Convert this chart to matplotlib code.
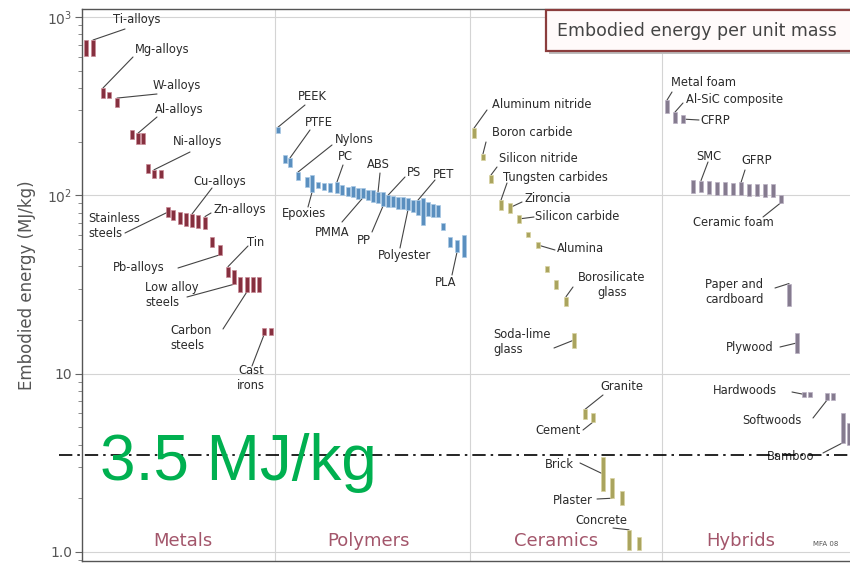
import numpy as np
import matplotlib
matplotlib.use("Agg")
import matplotlib.pyplot as plt
from matplotlib.transforms import Affine2D
from matplotlib.patches import Rectangle

# ---------------- data: embodied energy ranges (MJ/kg) ----------------
metal_lo = [604, 604, 351, 351, 313, 207, 194, 194, 133, 125, 125,
            75.5, 72.6, 69, 67.2, 66.4, 65.6, 64.8, 51.4, 46.4, 35,
            31.7, 28.8, 28.8, 28.8, 28.8, 16.5, 16.5]
metal_hi = [743, 743, 400, 380, 351, 232, 223, 223, 150, 139, 139,
            86, 82.7, 80.6, 79.6, 78.5, 77.5, 76, 58.5, 52.6, 39.8,
            38.2, 35, 35, 35, 35, 18, 18]

polymer_lo = [223, 152, 144, 122, 111, 104, 110, 107, 104, 103, 100, 99,
              98, 95, 97, 94, 92, 91, 87, 86, 86, 84, 84, 83, 81, 78, 68,
              77, 76, 76, 64, 51, 48, 45]
polymer_hi = [241, 168, 162, 135, 127, 130, 119, 117, 117, 119, 114, 111,
              113, 110, 110, 107, 107, 104, 104, 100, 99, 98, 98, 97, 94,
              94, 97, 92, 89, 88, 70, 58, 56, 60]

ceramic_lo = [210, 158, 117, 83, 80, 70, 58, 50.6, 37, 30, 24, 14, 5.6,
              5.35, 2.2, 2.0, 1.83, 1.03, 1.03]
ceramic_hi = [238, 171, 130, 94, 91, 77.6, 62, 54.7, 40, 33.5, 27, 17,
              6.3, 6.0, 3.4, 2.6, 2.2, 1.33, 1.21]

hybrid_lo = [290, 254, 254, 103, 104, 102, 100, 100, 101, 100, 99, 99,
             98, 98, 91, 24, 13, 7.4, 7.4, 7.1, 7.1, 4.1, 4.0]
hybrid_hi = [342, 293, 282, 122, 121, 120, 118, 118, 117, 118, 116, 116,
             115, 115, 100, 32, 17, 7.9, 7.9, 7.8, 7.8, 6.0, 5.3]

families = ["Metals", "Polymers", "Ceramics", "Hybrids"]
THRESHOLD = 3.5  # MJ/kg

# ---------------- layout: bar columns along the x axis ----------------
metal_x = [86, 93, 103, 109, 117, 132, 138, 143, 148, 154, 161, 168, 173,
           180, 186, 192, 198, 205, 212, 220, 228, 234, 240, 247, 253, 259,
           264, 271]
polymer_x = [278, 285, 290, 298, 307, 312, 318, 324, 330, 337, 342, 348,
             353, 358, 363, 368, 373, 378, 383, 388, 393, 398, 403, 408, 413,
             418, 423, 428, 433, 438, 443, 450, 457, 464]
ceramic_x = [474, 483, 491, 501, 510, 519, 528, 538, 547, 556, 566, 574,
             585, 593, 603, 612, 622, 629, 639]
hybrid_x = [667, 675, 683, 693, 701, 709, 717, 725, 733, 741, 749, 757,
            765, 773, 781, 789, 797, 804, 810, 827, 833, 843, 849]

family_centers = [183, 369, 556, 741]
separators = [275, 470, 662]

# label text, text x/y (page px), alignment, leader start (page px), bar index, bar end
metal_labels = [
    ("Ti-alloys", 113, 20, "left", 125, 29, 1, "top"),
    ("Mg-alloys", 135, 50, "left", 133, 57, 2, "top"),
    ("W-alloys", 153, 85, "left", 157, 94, 4, "top"),
    ("Al-alloys", 155, 110, "left", 157, 117, 6, "top"),
    ("Ni-alloys", 173, 142, "left", 190, 152, 9, "top"),
    ("Cu-alloys", 193, 182, "left", 212, 188, 15, "top"),
    ("Stainless\nsteels", 88, 226, "left", 125, 233, 11, "mid"),
    ("Zn-alloys", 214, 210, "left", 211, 213, 17, "top"),
    ("Tin", 247, 242, "left", 248, 246, 20, "top"),
    ("Pb-alloys", 113, 268, "left", 178, 268, 19, "bot"),
    ("Low alloy\nsteels", 145, 295, "left", 187, 297, 21, "bot"),
    ("Carbon\nsteels", 170, 338, "left", 223, 329, 23, "bot"),
    ("Cast\nirons", 251, 378, "center", 252, 366, 26, "bot"),
]
polymer_labels = [
    ("PEEK", 298, 97, "left", 305, 105, 0, "top"),
    ("PTFE", 305, 123, "left", 310, 130, 2, "top"),
    ("Nylons", 335, 140, "left", 332, 145, 3, "top"),
    ("PC", 338, 157, "left", 343, 165, 9, "top"),
    ("ABS", 367, 165, "left", 380, 173, 17, "top"),
    ("PS", 407, 172, "left", 405, 177, 19, "top"),
    ("PET", 433, 175, "left", 435, 180, 25, "top"),
    ("Epoxies", 282, 213, "left", 308, 207, 5, "bot"),
    ("PMMA", 315, 232, "left", 342, 222, 14, "bot"),
    ("PP", 357, 240, "left", 372, 232, 18, "bot"),
    ("Polyester", 378, 255, "left", 400, 248, 23, "bot"),
    ("PLA", 435, 282, "left", 452, 275, 32, "bot"),
]
ceramic_labels = [
    ("Aluminum nitride", 492, 105, "left", 487, 110, 0, "top"),
    ("Boron carbide", 492, 133, "left", 486, 142, 1, "top"),
    ("Silicon nitride", 499, 159, "left", 497, 167, 2, "top"),
    ("Tungsten carbides", 503, 177, "left", 507, 183, 3, "top"),
    ("Zironcia", 525, 198, "left", 522, 202, 4, "mid"),
    ("Silicon carbide", 535, 217, "left", 534, 217, 5, "mid"),
    ("Alumina", 557, 248, "left", 555, 250, 7, "mid"),
    ("Borosilicate\nglass", 612, 285, "center", 573, 287, 10, "top"),
    ("Soda-lime\nglass", 493, 342, "left", 554, 348, 11, "mid"),
    ("Granite", 600, 387, "left", 603, 395, 12, "top"),
    ("Cement", 535, 430, "left", 583, 430, 13, "bot"),
    ("Brick", 545, 465, "left", 580, 463, 14, "mid"),
    ("Plaster", 553, 500, "left", 597, 499, 15, "bot"),
    ("Concrete", 575, 520, "left", 613, 528, 17, "top"),
]
hybrid_labels = [
    ("Metal foam", 671, 83, "left", 672, 92, 0, "top"),
    ("Al-SiC composite", 686, 100, "left", 683, 103, 1, "top"),
    ("CFRP", 700, 120, "left", 699, 120, 2, "mid"),
    ("SMC", 696, 157, "left", 708, 162, 4, "top"),
    ("GFRP", 741, 160, "left", 745, 170, 9, "top"),
    ("Ceramic foam", 693, 223, "left", 763, 217, 14, "bot"),
    ("Paper and\ncardboard", 705, 292, "left", 775, 288, 15, "top"),
    ("Plywood", 726, 348, "left", 780, 347, 16, "mid"),
    ("Hardwoods", 713, 390, "left", 792, 392, 17, "mid"),
    ("Softwoods", 742, 420, "left", 813, 418, 19, "bot"),
    ("Bamboo", 767, 457, "left", 823, 453, 21, "bot"),
]

# ---------------- styles ----------------
bar_face = ["#86303f", "#5a8fbf", "#aaa45e", "#857b8f"]
bar_edge = ["#c98a96", "#a9c8e4", "#d9d3a2", "#b9b0c2"]
family_color = "#a3566b"
label_color = "#2a2a2a"
W, H = 850, 563

fig = plt.figure(figsize=(W / 100, H / 100), dpi=100)
fig.patch.set_facecolor("white")
# page-pixel coordinates (origin top-left)
PX = Affine2D().scale(1 / W, -1 / H).translate(0, 1) + fig.transFigure

ax = fig.add_axes([82 / W, 2 / H, 790 / W, 552 / H])
ax.set_yscale("log")
ax.set_xlim(82, 872)
ax.set_ylim(10 ** -0.0510, 10 ** 3.0449)

for s in ["left", "top", "bottom", "right"]:
    ax.spines[s].set_color("#555555")
    ax.spines[s].set_linewidth(1.0)

ax.set_xticks([])
ax.set_yticks([1, 10, 100, 1000])
ax.set_yticklabels(["1.0", "10", "10$^2$", "10$^3$"])
ax.tick_params(axis="y", which="major", direction="out", length=5,
               width=0.8, color="#666666", labelsize=10, labelcolor="#555555", pad=2)
ax.tick_params(axis="y", which="minor", direction="out", length=3,
               width=0.6, color="#777777")
ax.set_ylabel("Embodied energy (MJ/kg)", fontsize=12, color="#555555", labelpad=8)

# decade grid and family separators
for d in [1, 10, 100, 1000]:
    ax.axhline(d, color="#d4d4d4", lw=0.8, zorder=0)
for sx in separators:
    ax.axvline(sx, color="#d4d4d4", lw=0.8, zorder=0)

all_x = [metal_x, polymer_x, ceramic_x, hybrid_x]
all_lo = [metal_lo, polymer_lo, ceramic_lo, hybrid_lo]
all_hi = [metal_hi, polymer_hi, ceramic_hi, hybrid_hi]
all_labels = [metal_labels, polymer_labels, ceramic_labels, hybrid_labels]

for k in range(4):
    lo = np.array(all_lo[k], dtype=float)
    hi = np.array(all_hi[k], dtype=float)
    ax.bar(all_x[k], hi - lo, bottom=lo, width=3.6, color=bar_face[k],
           edgecolor=bar_edge[k], linewidth=0.5, zorder=3)
    for (txt, tx, ty, ha, lx, ly, bi, part) in all_labels[k]:
        end = {"top": hi[bi], "bot": lo[bi], "mid": np.sqrt(hi[bi] * lo[bi])}[part]
        ax.annotate("", xy=(all_x[k][bi], end), xycoords="data",
                    xytext=(lx, ly), textcoords=PX,
                    arrowprops=dict(arrowstyle="-", color="#444444", lw=0.8,
                                    shrinkA=0, shrinkB=0), zorder=2)
        ax.text(tx, ty, txt, transform=PX, ha=ha, va="center",
                multialignment=ha, fontsize=8.3, color=label_color,
                linespacing=1.15, zorder=4)
    ax.text(family_centers[k], 541, families[k], transform=PX, ha="center",
            va="center", fontsize=13, color=family_color)

ax.text(813, 544, "MFA 08", transform=PX, ha="left", va="center",
        fontsize=5, color="#555555")

# title box
shadow = Rectangle((549, 13), 330, 41, transform=PX, facecolor="#bdbdbd",
                   edgecolor="none", clip_on=False, zorder=5)
box = Rectangle((546, 10), 330, 41, transform=PX, facecolor="#fffafa",
                edgecolor="#8b3d3d", linewidth=1.6, clip_on=False, zorder=6)
fig.add_artist(shadow)
fig.add_artist(box)
fig.text(557 / W, 1 - 31 / H, "Embodied energy per unit mass", ha="left",
         va="center", fontsize=12.5, color="#444444", zorder=7)

# threshold line and its label
ax.plot([59, 872], [THRESHOLD, THRESHOLD], color="black", lw=1.2,
        dashes=(8, 3, 1.5, 3), clip_on=False, zorder=6)
ax.text(100, 480, f"{THRESHOLD} MJ/kg", transform=PX, ha="left",
        va="baseline", fontsize=46, family="Liberation Sans",
        color="#00b050", zorder=7)

fig.savefig("out.png", dpi=100)
